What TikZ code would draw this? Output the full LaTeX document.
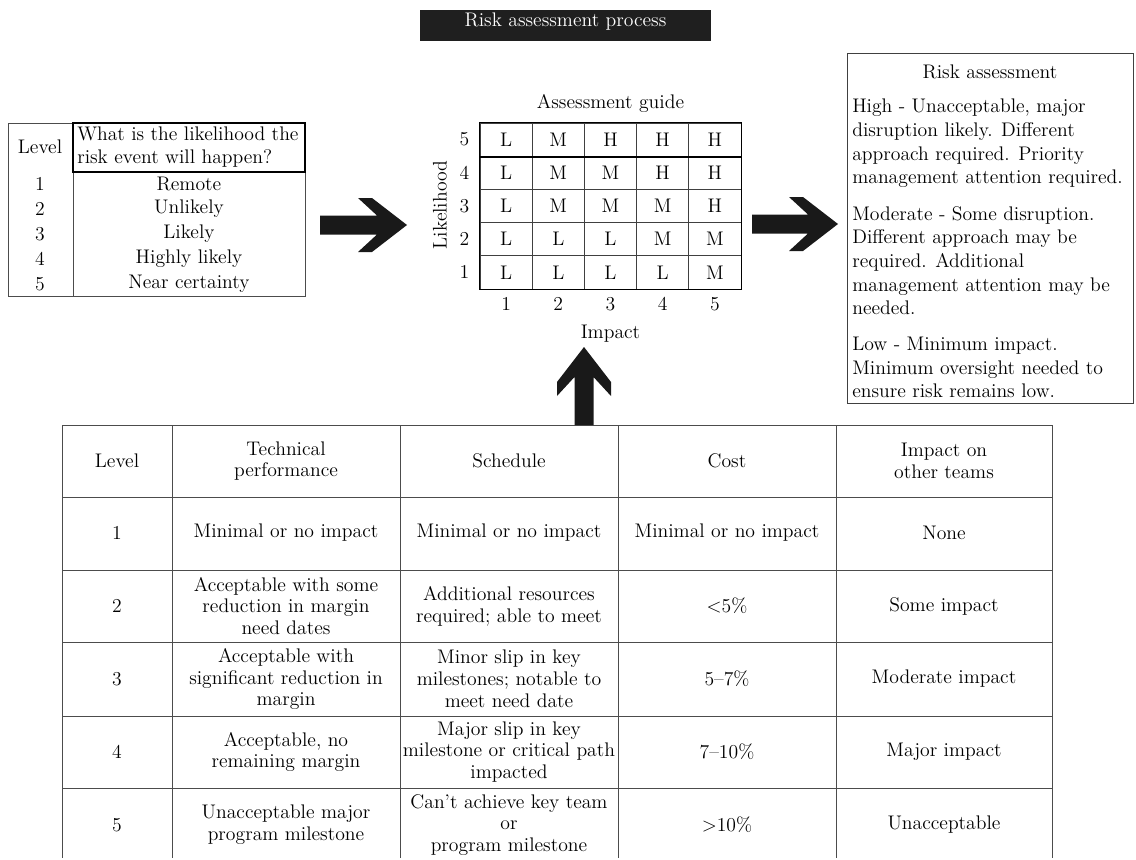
\documentclass[tikz,border=0pt]{standalone}
\usetikzlibrary{positioning}

\begin{document}
\begin{tikzpicture}[
    x = 0.025cm, y = -0.025cm,
    every node/.style = {font=\fontsize{14}{15.5}\selectfont, inner sep=0pt},
    cell/.style = {align=center},
    para/.style = {align=left, anchor=north west, font=\fontsize{14}{16.8}\selectfont},
    titlebar/.style = {fill=black!88, text=white, text depth=8pt, minimum width=7.275cm, minimum height=0.775cm},
    grade/.style = {draw=black!75, line width=0.6pt, minimum width=1.305cm, minimum height=0.83cm},
    rule/.style = {draw=black!70, line width=0.7pt},
    pics/blockarrow/.style = {code={
        \fill[black!90] (0,-9.5) -- ({#1-30},-9.5) -- ({#1-49},-27) -- ({#1-35},-27)
            -- (#1,0) -- ({#1-35},27) -- ({#1-49},27) -- ({#1-30},9.5) -- (0,9.5) -- cycle;}}
]
\useasboundingbox (0,0) rectangle (1136,860);

% Title
\node[titlebar] (title) at (565.5,25.5) {Risk assessment process};

% Likelihood table
\draw[rule] (8,123) rectangle (305,296);
\draw[rule] (73,123) -- (73,296);
\draw[line width=1.1pt] (73,123) rectangle (305,172);
\node (lvlhead) at (40,147) {Level};
\node[align=left, anchor=west, font=\fontsize{14}{16.4}\selectfont] (likehead) at (77,147)
    {What is the likelihood the\\risk event will happen?};
\foreach \p [count=\n] in {Remote, Unlikely, Likely, Highly likely, Near certainty} {
    \node (ln-\n) at (40,{159+25*\n}) {\n};
    \node (lp-\n) at (189,{159+25*\n}) {\p};
}

% Assessment guide
\foreach \row [count=\j] in {{L,M,H,H,H},{L,M,M,H,H},{L,M,M,M,H},{L,L,L,M,M},{L,L,L,L,M}}
    \foreach \g [count=\i] in \row
        \node[grade] (g-\j-\i) at ({453.9+52.2*\i},{106.4+33.2*\j}) {\g};
\draw[line width=1.2pt] (g-1-1.north west) rectangle (g-5-5.south east);
\draw[line width=1.4pt] (g-1-1.south west) -- (g-1-5.south east);
\foreach \n [count=\j] in {5,4,3,2,1}
    \node[left=0.25cm of g-\j-1] (row-\n) {\n};
\foreach \i in {1,...,5}
    \node[below=0.2cm of g-5-\i] (col-\i) {\i};
\node[below=0.33cm of col-3] (impact) {Impact};
\node[rotate=90] (likelihood) at (440,205) {Likelihood};
\node[above=0.24cm of g-1-3] (guide) {Assessment guide};

% Risk assessment
\node[draw=black!75, line width=0.7pt, minimum width=7.15cm, minimum height=8.75cm,
    anchor=north west] (riskbox) at (847,53) {};
\node[anchor=north] (risktitle) at (990,65) {Risk assessment};
\node[para] (high) at (852,99)
    {High - Unacceptable, major\\disruption likely. Different\\approach required. Priority\\management attention required.};
\node[para] (moderate) at (852,206)
    {Moderate - Some disruption.\\Different approach may be\\required. Additional\\management attention may be\\needed.};
\node[para] (low) at (852,337)
    {Low - Minimum impact.\\Minimum oversight needed to\\ensure risk remains low.};

% Impact table
\foreach \x in {62,172,400,618,836,1052}
    \draw[rule] (\x,425) -- (\x,858);
\foreach \y in {425,497,570,642,716,788}
    \draw[rule] (62,\y) -- (1052,\y);
\foreach \t/\x [count=\c] in {Level/117, {Technical\\performance}/286, Schedule/509,
        Cost/727, {Impact on\\other teams}/944}
    \node[cell] (h-\c) at (\x,461) {\t};
\foreach \lv/\tech/\sched/\cost/\team [count=\r] in {
        1/{Minimal or no impact}/{Minimal or no impact}/{Minimal or no impact}/None,
        2/{Acceptable with some\\reduction in margin\\need dates}/{Additional resources\\required; able to meet}/{\textless5\%}/{Some impact},
        3/{Acceptable with\\significant reduction in\\margin}/{Minor slip in key\\milestones; notable to\\meet need date}/{5--7\%}/{Moderate impact},
        4/{Acceptable, no\\remaining margin}/{Major slip in key\\milestone or critical path\\impacted}/{7--10\%}/{Major impact},
        5/{Unacceptable major\\program milestone}/{Can't achieve key team\\or\\program milestone}/{\textgreater10\%}/Unacceptable} {
    \node (r\r-lvl) at (117,{460+73*\r}) {\lv};
    \node[cell] (r\r-tech) at (286,{460+73*\r}) {\tech};
    \node[cell] (r\r-sched) at (509,{460+73*\r}) {\sched};
    \node (r\r-cost) at (727,{460+73*\r}) {\cost};
    \node (r\r-team) at (944,{460+73*\r}) {\team};
}

% Draw arrows
\pic (toguide) at (320,225) {blockarrow=87};
\pic (torisk) at (752,224) {blockarrow=86};
\pic[rotate=90] (fromimpact) at (584,425) {blockarrow=78};

\end{tikzpicture}
\end{document}
